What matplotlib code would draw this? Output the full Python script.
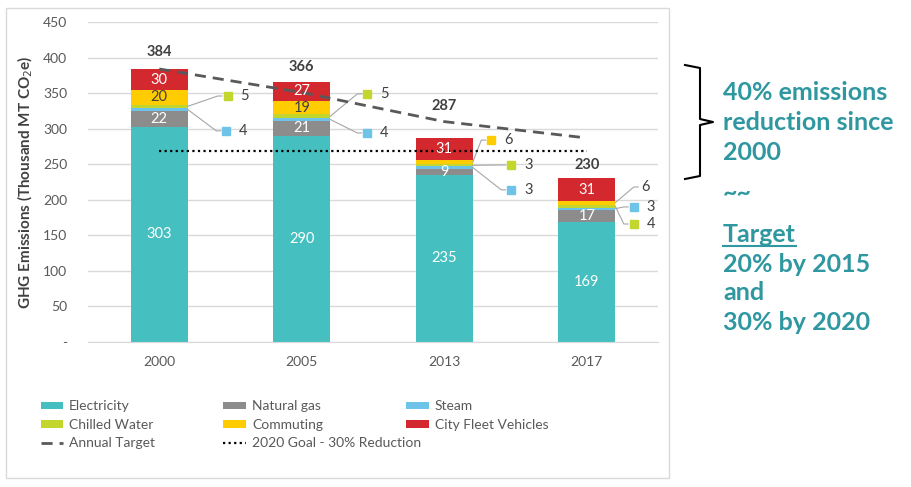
import numpy as np
import matplotlib.pyplot as plt
from matplotlib.patches import Rectangle
from matplotlib.lines import Line2D
import matplotlib
matplotlib.rcParams['font.family'] = ['Lato', 'DejaVu Sans']

years = ['2000', '2005', '2013', '2017']
series = ['Electricity', 'Natural gas', 'Steam', 'Chilled Water', 'Commuting', 'City Fleet Vehicles']
electricity = [303, 290, 235, 169]
natural_gas = [22, 21, 9, 17]
steam = [4, 4, 3, 3]
chilled_water = [5, 5, 3, 4]
commuting = [20, 19, 6, 6]
fleet = [30, 27, 31, 31]
totals = [384, 366, 287, 230]
annual_target = [384, 351, 310, 287]
goal_2020 = 269

colors = ['#45BFBF', '#8C8C8C', '#6EC4E8', '#C3D62E', '#FFCC00', '#D2282E']
values = [electricity, natural_gas, steam, chilled_water, commuting, fleet]

fig = plt.figure(figsize=(9.12, 4.87), dpi=100)
ax = fig.add_axes([0.0965, 0.2977, 0.625, 0.657])

# chart border
fig.patches.append(Rectangle((6 / 912, 1 - 478 / 487), 663 / 912, 470 / 487,
                             transform=fig.transFigure, fill=False,
                             edgecolor='#D9D9D9', linewidth=1))

x = np.arange(len(years))
w = 0.4
bottom = np.zeros(len(years))
for name, vals, c in zip(series, values, colors):
    ax.bar(x, vals, w, bottom=bottom, color=c, label=name, zorder=2)
    for i, v in enumerate(vals):
        if v >= 9:
            tc = '#404040' if name == 'Commuting' else 'white'
            ax.text(x[i], bottom[i] + v / 2, str(v), ha='center', va='center',
                    color=tc, fontsize=10.5, zorder=4)
    bottom += np.array(vals)

# small segments labelled outside: (year idx, series idx, label x, label y, marker)
outside = [
    (0, 3, 0.48, 346, True), (0, 2, 0.47, 297, True),
    (1, 3, 1.46, 349, True), (1, 2, 1.46, 294, True),
    (2, 4, 2.33, 284, True), (2, 3, 2.47, 249, True), (2, 2, 2.47, 214, True),
    (3, 4, 3.40, 218, False), (3, 2, 3.33, 190, True), (3, 3, 3.33, 166, True),
]
cum = np.cumsum(np.array(values), axis=0)
for i, s, lx, ly, mk in outside:
    top = cum[s, i]
    mid = top - values[s][i] / 2
    ax.plot([x[i] + w / 2, lx - 0.07, lx - 0.04], [mid, ly, ly], color='#A6A6A6',
            linewidth=0.8, zorder=3, clip_on=False)
    if mk:
        ax.plot(lx, ly, 's', color=colors[s], markersize=6, zorder=4, clip_on=False)
        tx = lx + 0.09
    else:
        tx = lx - 0.02
    ax.text(tx, ly, str(values[s][i]), ha='left', va='center', color='#404040',
            fontsize=10.5, zorder=4)

# totals
total_y = [408, 387, 332, 249]
for i, t in enumerate(totals):
    ax.text(x[i], total_y[i], str(t), ha='center', va='center', fontweight='bold',
            color='#404040', fontsize=10.5)

ax.plot(x, annual_target, linestyle=(0, (4, 2.5)), color='#595959', linewidth=2,
        label='Annual Target', zorder=3)
ax.plot([x[0], x[-1]], [goal_2020, goal_2020], linestyle=(0, (1, 1.5)), color='black',
        linewidth=1.6, label='2020 Goal - 30% Reduction', zorder=3)

ax.set_xlim(-0.5, 3.5)
ax.set_ylim(0, 450)
ax.set_yticks(np.arange(0, 451, 50))
ax.set_yticklabels(['-'] + [str(v) for v in range(50, 451, 50)])
ax.set_xticks(x)
ax.set_xticklabels(years)
ax.tick_params(length=0, labelsize=10, colors='#595959')
ax.tick_params(axis='y', pad=15)
ax.tick_params(axis='x', pad=10)
ax.grid(axis='y', color='#D9D9D9', linewidth=1, zorder=0)
for sp in ['top', 'right', 'left']:
    ax.spines[sp].set_visible(False)
ax.spines['bottom'].set_color('#D9D9D9')
ax.set_ylabel('GHG Emissions (Thousand MT CO$_2$e)', fontsize=11, fontweight='bold',
              color='#404040', labelpad=6)

# legend: three separately placed columns
h, l = ax.get_legend_handles_labels()
d = dict(zip(l, h))
columns = [['Electricity', 'Chilled Water', 'Annual Target'],
           ['Natural gas', 'Commuting', '2020 Goal - 30% Reduction'],
           ['Steam', 'City Fleet Vehicles']]
col_x = [28, 211, 394]
for cx, keys in zip(col_x, columns):
    leg = fig.legend([d[k] for k in keys], keys, loc='upper left',
                     bbox_to_anchor=(cx / 912, 1 - 388 / 487), frameon=False,
                     fontsize=10, handlelength=1.6, handleheight=0.45,
                     labelspacing=0.45, handletextpad=0.45)
    for t in leg.get_texts():
        t.set_color('#595959')

# bracket
bx = [685 / 912, 700 / 912, 700 / 912, 713 / 912, 700 / 912, 700 / 912, 685 / 912]
by = [1 - 65 / 487, 1 - 68 / 487, 1 - 119 / 487, 1 - 122 / 487, 1 - 125 / 487,
      1 - 176 / 487, 1 - 179 / 487]
fig.add_artist(Line2D(bx, by, color='black', linewidth=1.5, transform=fig.transFigure))

teal = '#2E97A0'
lines = ['40% emissions', 'reduction since', '2000', '~~', 'Target',
         '20% by 2015', 'and', '30% by 2020']
ys = [93, 123, 152, 193, 235, 264, 293, 322]
texts = []
for s, yy in zip(lines, ys):
    texts.append(fig.text(723 / 912, 1 - yy / 487, s, ha='left', va='center',
                          color=teal, fontsize=18, fontweight='bold'))

# underline under "Target"
fig.canvas.draw()
bb = texts[4].get_window_extent().transformed(fig.transFigure.inverted())
fig.add_artist(Line2D([bb.x0, bb.x1], [1 - 246 / 487, 1 - 246 / 487],
                      color=teal, linewidth=1.5, transform=fig.transFigure))

fig.savefig('out.png', dpi=100)
